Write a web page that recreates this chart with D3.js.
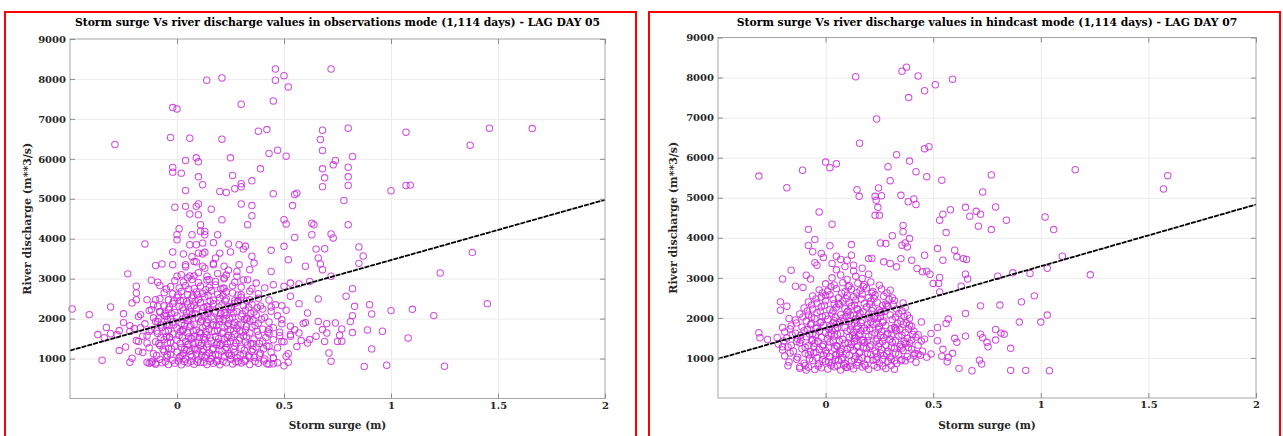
<!DOCTYPE html>
<html><head><meta charset="utf-8">
<script src="https://cdn.jsdelivr.net/npm/d3@7"></script>
<style>
body{margin:0;background:#fff;}
svg{display:block;}
text{font-family:"DejaVu Serif",serif;font-weight:bold;}
</style>
</head><body>
<svg id="c" width="1283" height="436"></svg>
<script>
const xTickValues = [0, 0.5, 1, 1.5, 2];
const xGridValues = [0, 0.5, 1, 1.5];
const yTickValues = [1000, 2000, 3000, 4000, 5000, 6000, 7000, 8000, 9000];
const yGridValues = [1000, 2000, 3000, 4000, 5000, 6000, 7000, 8000];
const xDomain = [-0.5, 2];
const yDomain = [0, 9000];
const titles = [
  "Storm surge Vs river discharge values in observations mode (1,114 days) - LAG DAY 05",
  "Storm surge Vs river discharge values in hindcast mode (1,114 days) - LAG DAY 07"
];
const xLabel = "Storm surge (m)";
const yLabel = "River discharge (m**3/s)";
// regression [intercept, slope]
const obsFit = [1955, 1510];
const hindFit = [1748, 1541];

const obsOutliers = [[0.00,7250],[0.139,7967],[0.21,8025],[0.46,8250],[0.46,7967],[0.50,8083],[0.52,7800],[0.72,8250],[0.45,7450],[0.30,7367],[-0.02,7283],[0.38,6692],[0.42,6733],[-0.03,6533],[0.06,6517],[0.21,6492],[-0.29,6358],[0.68,6717],[0.67,6483],[0.68,6208],[0.80,6767],[0.09,6025],[0.04,5958],[0.10,5925],[0.25,6025],[0.43,6133],[0.47,6217],[0.51,6067],[0.74,5958],[0.73,5850],[0.80,5792],[0.68,5750],[-0.02,5783],[-0.02,5667],[0.02,5642],[0.39,5750],[0.10,5550],[0.26,5583],[0.12,5350],[0.35,5450],[0.30,5375],[0.30,5300],[0.27,5250],[0.69,5525],[0.80,5550],[0.80,5333],[0.04,5208],[0.20,5183],[0.23,5158],[0.45,5125],[0.55,5108],[0.56,5142],[0.68,5300],[0.78,4958],
[1.07,6667],[1.46,6767],[1.66,6758],[1.37,6342],[0.82,6058],[1.07,5333],[1.09,5342],[1.00,5200],[0.80,4350],[0.85,3792],[0.87,3567],[0.85,3383],[1.38,3658],[1.23,3142],[0.82,2750],[0.83,2308],[0.90,2350],[0.91,2117],[0.82,2075],[0.81,1925],[1.00,2200],[1.10,2233],[1.20,2075],[1.45,2375],[0.89,1717],[0.96,1683],[0.82,1650],[1.08,1517],[0.77,1742],[0.77,1433],[0.76,1583],[0.91,1242],[0.875,800],[0.98,833],[1.25,808]];

const obsSparse = [[-0.01,4790],[0.04,4810],[0.09,4810],[0.10,4870],[0.16,4740],[0.06,4620],[0.10,4600],[0.30,4870],[0.35,4830],[0.54,4830],[0.35,4575],[0.33,4350],[0.50,4475],[0.51,4370],[0.21,4475],[0.63,4390],[0.64,4350],[0.11,4350],[0.11,4180],[0.13,4180],[0.01,4250],[0.00,4100],[0.07,4100],[0.13,4100],[0.19,4100],[0.63,4100],[0.72,4120],[0.73,4020],[0.55,4030],[-0.15,3870],[0.00,3975],[0.06,3850],[0.09,3850],[0.12,3890],[0.17,3900],[0.24,3870],[0.29,3850],[0.32,3810],[0.50,3810],[0.44,3710],[0.65,3740],[0.69,3750],[-0.02,3670],[0.03,3620],[0.10,3640],[0.13,3660],[0.20,3640],[0.25,3670],[0.31,3740],[0.35,3560],[0.66,3520],[0.52,3475],[-0.10,3330],[-0.07,3370],[-0.02,3350],[0.04,3350],[0.08,3430],[0.12,3310],[0.17,3350],[0.24,3210],[0.29,3350],[0.34,3225],[0.36,3390],[0.44,3180],[0.60,3310],[0.67,3370],[0.68,3225],[0.72,3060],[-0.23,3120],[-0.12,2960],[-0.09,2910],[-0.08,2830],[0.00,3060],[0.05,3020],[0.08,3070],[0.15,2975],[0.22,3020],[0.28,3060],[0.33,2975],[0.37,2890],[0.41,2770],[0.45,2850],[0.50,2810],[0.53,2890],[0.57,2870],[0.62,2930],[-0.19,2810],[-0.19,2640],[-0.19,2475],[-0.21,2390],[-0.14,2475],[-0.10,2475],[-0.05,2740],[-0.09,2310],[-0.49,2240],[-0.41,2100],[-0.31,2290],[-0.25,2120],[-0.17,2100],[0.57,2375],[0.61,2140],[0.66,2490],[0.49,2325],[0.53,2560],[0.79,2560],[0.44,2290],[0.49,1975],[0.53,1810],[0.59,1875],[0.66,1930],[0.70,1875],[0.74,1890],[0.68,1725],[0.65,1560],[0.57,1640],[0.48,1660],[0.43,1725],[0.70,1640],[0.62,1475],[0.61,1390],[0.49,1430],[0.53,1560],[0.69,1430],[0.75,1430],[0.71,1140],[0.72,935],[0.51,1060],[0.52,910],[0.50,820],[0.45,1020],[0.42,870],[0.45,870],[0.34,1040],[0.43,1310],[-0.37,1600],[-0.34,1520],[-0.33,1780],[-0.31,1620],[-0.27,1700],[-0.27,1200],[-0.35,960],[-0.22,910],[-0.22,1825],[-0.22,1680],[-0.18,1180],[-0.18,1430],[-0.17,1770],[-0.16,1560],[-0.14,1390],[-0.14,910],[-0.12,910],[-0.10,890],[-0.13,1680],[-0.10,1930],[-0.12,2225],[-0.08,2180],[-0.05,2060]];

const obsCore = [[-0.13,880],[-0.1,860],[-0.07,895],[-0.04,850],[-0.01,885],[0.02,845],[0.05,890],[0.08,860],[0.11,900],[0.14,850],[0.17,880],[0.2,845],[0.23,895],[0.26,865],[0.3,890],[0.34,850],[0.38,880],[0.43,860],[0.47,895],
[-0.21,1010],[-0.08,980],[-0.05,1040],[-0.02,960],[0.01,1020],[0.04,990],[0.07,1050],[0.1,970],[0.13,1030],[0.16,1000],[0.19,955],[0.22,1045],[0.25,985],[0.28,1020],[0.32,965],[0.36,1035],[0.41,990],[0.45,1010],
[-0.16,1150],[-0.11,1120],[-0.06,1180],[-0.03,1105],[0.0,1165],[0.03,1130],[0.06,1190],[0.09,1110],[0.12,1170],[0.15,1140],[0.18,1100],[0.21,1185],[0.24,1125],[0.27,1160],[0.31,1115],[0.35,1175],[0.39,1135],[0.44,1160],[0.52,1120],
[-0.24,1290],[-0.13,1270],[-0.08,1330],[-0.04,1255],[-0.01,1310],[0.02,1280],[0.05,1345],[0.08,1260],[0.11,1320],[0.14,1285],[0.17,1250],[0.2,1335],[0.23,1275],[0.27,1305],[0.3,1260],[0.33,1340],[0.37,1290],[0.42,1315],[0.47,1270],[0.56,1300],
[-0.19,1450],[-0.1,1420],[-0.06,1480],[-0.03,1405],[0.0,1465],[0.04,1430],[0.07,1495],[0.1,1410],[0.13,1470],[0.16,1440],[0.19,1400],[0.22,1485],[0.25,1425],[0.29,1460],[0.32,1415],[0.36,1490],[0.4,1435],[0.45,1470],[0.5,1420],[0.58,1450],
[-0.28,1600],[-0.14,1570],[-0.09,1630],[-0.05,1555],[-0.02,1615],[0.01,1580],[0.05,1645],[0.08,1560],[0.11,1620],[0.14,1590],[0.18,1550],[0.21,1635],[0.24,1575],[0.27,1610],[0.31,1565],[0.34,1640],[0.38,1585],[0.43,1620],[0.48,1570],[0.53,1600],
[-0.2,1750],[-0.12,1720],[-0.07,1780],[-0.04,1705],[0.0,1765],[0.03,1730],[0.06,1795],[0.09,1710],[0.12,1770],[0.15,1740],[0.19,1700],[0.22,1785],[0.25,1725],[0.28,1760],[0.32,1715],[0.35,1790],[0.4,1735],[0.45,1770],[0.55,1720],
[-0.25,1900],[-0.15,1870],[-0.09,1930],[-0.05,1855],[-0.02,1915],[0.02,1880],[0.05,1945],[0.08,1860],[0.11,1920],[0.14,1890],[0.17,1850],[0.2,1935],[0.24,1875],[0.27,1910],[0.3,1865],[0.34,1940],[0.38,1885],[0.43,1915],[0.49,1870],[0.6,1900],
[-0.18,2050],[-0.11,2020],[-0.06,2080],[-0.03,2005],[0.0,2065],[0.04,2030],[0.07,2095],[0.1,2010],[0.13,2070],[0.16,2040],[0.2,2000],[0.23,2085],[0.26,2025],[0.3,2060],[0.33,2015],[0.37,2090],[0.41,2035],[0.47,2070],
[-0.13,2200],[-0.08,2170],[-0.04,2230],[-0.01,2155],[0.03,2215],[0.06,2180],[0.09,2245],[0.12,2160],[0.15,2220],[0.18,2190],[0.22,2150],[0.25,2235],[0.28,2175],[0.32,2210],[0.36,2165],[0.4,2240],[0.44,2185],[0.51,2210],
[-0.11,2350],[-0.06,2320],[-0.02,2380],[0.01,2305],[0.05,2365],[0.08,2330],[0.11,2395],[0.14,2310],[0.17,2370],[0.21,2340],[0.24,2300],[0.27,2385],[0.31,2325],[0.35,2360],[0.39,2315],[0.46,2345],
[-0.08,2500],[-0.04,2470],[0.0,2530],[0.03,2455],[0.07,2515],[0.1,2480],[0.13,2545],[0.17,2460],[0.2,2520],[0.23,2490],[0.27,2450],[0.3,2535],[0.34,2475],[0.38,2510],[0.43,2465],
[-0.06,2650],[-0.02,2620],[0.02,2680],[0.05,2605],[0.09,2665],[0.12,2630],[0.16,2695],[0.19,2610],[0.23,2670],[0.26,2640],[0.3,2600],[0.34,2685],[0.38,2625],
[-0.03,2800],[0.01,2770],[0.04,2830],[0.08,2755],[0.11,2815],[0.15,2780],[0.18,2845],[0.22,2760],[0.26,2820],[0.3,2790],[0.35,2750],
[-0.01,2950],[0.03,2920],[0.07,2980],[0.1,2905],[0.14,2965],[0.18,2930],[0.22,2995],[0.27,2910],[0.31,2970],
[0.02,3100],[0.06,3070],[0.1,3150],[0.14,3060],[0.19,3130],[0.23,3090],[0.28,3180],
[0.04,3300],[0.09,3420],[0.13,3260],[0.17,3380],[0.22,3310],
[0.07,3550],[0.12,3620],[0.18,3520],
[0.015,1060],[0.045,1215],[0.075,1370],[0.105,1525],[0.135,1680],[0.165,1835],[0.195,1990],[0.225,2145],[0.255,2300],[0.285,2455],
[0.025,1700],[0.055,1540],[0.085,1230],[0.115,1075],[0.145,2300],[0.175,2140],[0.205,1370],[0.235,1530],[0.265,1840],[0.295,1690],
[-0.035,1530],[-0.015,1840],[0.325,1990],[0.355,1380],[0.015,2450],[0.095,2600],[0.245,1080],[0.215,2760],[0.125,910],[0.285,925]];

const obsCoreExtra = [[-0.115,935],[-0.055,920],[0.005,940],[0.035,925],[0.065,935],[0.095,915],[0.155,930],[0.185,920],[0.215,935],[0.275,915],[0.315,930],[0.365,925],[0.405,940],
[-0.095,1075],[-0.045,1090],[0.025,1080],[0.065,1095],[0.135,1085],[0.165,1070],[0.195,1090],[0.255,1075],[0.295,1085],[0.335,1070],[0.385,1090],
[-0.065,1225],[-0.025,1240],[0.035,1230],[0.095,1215],[0.125,1235],[0.165,1220],[0.225,1225],[0.265,1240],[0.315,1215],[0.355,1230],[0.405,1245],
[-0.085,1375],[-0.045,1390],[0.015,1380],[0.055,1365],[0.115,1385],[0.145,1370],[0.185,1345],[0.235,1375],[0.275,1390],[0.345,1370],[0.385,1380],
[-0.075,1530],[-0.035,1540],[0.025,1525],[0.065,1510],[0.125,1535],[0.155,1520],[0.195,1505],[0.255,1530],[0.295,1515],[0.325,1540],[0.415,1525],
[-0.095,1690],[-0.055,1680],[0.015,1675],[0.075,1690],[0.105,1660],[0.175,1680],[0.215,1665],[0.265,1690],[0.305,1670],[0.375,1680],[0.425,1665],
[-0.075,1840],[-0.035,1830],[0.035,1825],[0.065,1840],[0.135,1815],[0.185,1830],[0.235,1820],[0.285,1840],[0.325,1810],[0.365,1830],
[-0.085,1990],[-0.045,1980],[0.025,1985],[0.055,1995],[0.115,1970],[0.145,1985],[0.215,1975],[0.245,1995],[0.315,1980],[0.355,1970],[0.395,1985],
[-0.055,2135],[-0.025,2125],[0.045,2140],[0.085,2120],[0.145,2135],[0.205,2125],[0.265,2140],[0.305,2120],[0.345,2130],
[-0.035,2290],[0.025,2275],[0.065,2290],[0.125,2280],[0.195,2290],[0.255,2275],[0.335,2285],[0.375,2270],
[-0.015,2440],[0.045,2425],[0.085,2440],[0.155,2430],[0.225,2440],[0.285,2420],[0.325,2445],
[0.005,2590],[0.075,2575],[0.145,2585],[0.215,2570],[0.285,2590],
[0.055,2740],[0.135,2725],[0.205,2745]];

const hindOutliers = [[0.14,8020],[0.355,8160],[0.376,8260],[0.43,8040],[0.46,7670],[0.51,7820],[0.59,7960],[0.386,7500],[0.237,6965],[0.158,6360],[0.46,6225],[0.48,6275],[0.33,6075],[0.39,5915],[0.0,5890],[0.02,5750],[0.05,5850],[-0.107,5685],[-0.31,5540],[-0.18,5250],[0.29,5775],[0.42,5650],[0.47,5525],[0.30,5425],[0.54,5435],[0.77,5570],[0.73,5145],[0.146,5200],[0.156,5035],[0.246,5245],[0.23,5035],[0.26,5050],[0.235,4935],[0.243,4760],[0.35,5060],[0.384,4900],[0.41,4970],[0.42,4830],[0.58,4700],[0.65,4760],[0.70,4660],[0.79,4770],[-0.03,4645],
[1.16,5700],[1.59,5550],[1.57,5220],[0.84,4440],[1.02,4520],[1.06,4205],[0.77,4205],[1.10,3540],[1.03,3240],[0.87,3125],[0.95,3110],[0.80,3040],[1.23,3075],[0.97,2550],[0.91,2400],[0.81,2320],[1.03,2070],[1.00,1895],[0.90,1895],[0.79,1710],[0.815,1620],[0.83,1590],[0.86,1240],[0.86,690],[0.93,690],[1.04,680]];

const hindSparse = [[0.23,4560],[0.25,4560],[0.03,4340],[-0.08,4210],[0.545,4590],[0.53,4440],[0.67,4540],[0.72,4590],[0.71,4290],[0.56,4130],[0.36,4310],[0.36,4150],[0.31,4050],[0.255,3870],[0.28,3855],[0.355,3815],[0.37,3870],[0.39,3980],[0.38,3770],[-0.05,3960],[-0.08,3810],[0.02,3800],[0.12,3830],[-0.06,3650],[-0.02,3610],[-0.01,3510],[-0.05,3380],[-0.04,3315],[0.05,3540],[0.07,3460],[0.10,3440],[0.12,3565],[0.03,3360],[0.13,3315],[0.20,3480],[0.215,3490],[0.27,3400],[0.30,3360],[0.33,3275],[0.35,3480],[0.40,3440],[0.46,3565],[0.52,3730],[0.545,3440],[0.60,3690],[0.61,3525],[0.64,3480],[0.655,3460],[0.425,3235],[0.45,3150],[0.47,3165],[0.485,3090],[0.53,3010],[0.50,2860],[0.525,2860],[0.53,2650],[0.65,3090],[0.66,2970],[0.63,2790],[0.72,2300],[0.65,2110],[-0.16,3190],[-0.2,2970],[-0.09,3065],[-0.07,2970],[-0.14,2790],[-0.105,2760],[-0.21,2400],[-0.18,2290],[-0.21,2190],[-0.17,1985],[-0.2,1760],[-0.31,1630],[-0.305,1505],[-0.27,1460],[-0.225,1510],[-0.2,1280],[-0.175,805],[-0.12,780],[-0.09,700],[0.545,1215],[0.59,1115],[0.49,1100],[0.57,1015],[0.54,1045],[0.565,905],[0.62,740],[0.68,680],[0.715,945],[0.725,850],[0.35,930],[0.32,930],[0.43,1100],[0.41,1070],[0.49,1610],[0.52,1760],[0.56,1860],[0.57,1970],[0.60,1490],[0.61,1390],[0.65,1545],[0.72,1595],[0.73,1505],[0.75,1390],[0.755,1280],[0.79,1446],[0.52,1430],[0.445,1900],[0.43,1580],[0.40,1446],[0.37,1360],[0.39,1820]];

const hindCore = [[-0.12,740],[-0.08,770],[-0.05,710],[-0.02,755],[0.01,725],[0.04,780],[0.07,700],[0.1,760],[0.13,730],[0.17,775],[0.2,715],[0.24,765],[0.28,735],[0.32,720],
[-0.17,900],[-0.1,870],[-0.06,935],[-0.03,855],[0.0,915],[0.03,880],[0.06,945],[0.09,860],[0.12,925],[0.15,890],[0.18,850],[0.22,940],[0.25,875],[0.29,910],[0.33,865],[0.37,930],[0.42,895],
[-0.19,1050],[-0.13,1020],[-0.08,1080],[-0.04,1005],[-0.01,1065],[0.02,1030],[0.05,1095],[0.08,1010],[0.11,1070],[0.14,1040],[0.17,1000],[0.21,1085],[0.24,1025],[0.27,1060],[0.3,1015],[0.34,1090],[0.38,1035],[0.44,1065],[0.47,1020],
[-0.2,1200],[-0.15,1170],[-0.11,1230],[-0.07,1155],[-0.03,1215],[0.0,1180],[0.04,1245],[0.07,1160],[0.1,1220],[0.13,1190],[0.16,1150],[0.19,1235],[0.23,1175],[0.26,1210],[0.29,1165],[0.32,1240],[0.36,1185],[0.4,1215],[0.45,1170],
[-0.22,1350],[-0.16,1320],[-0.12,1380],[-0.08,1305],[-0.05,1365],[-0.01,1330],[0.02,1395],[0.05,1310],[0.09,1370],[0.12,1340],[0.15,1300],[0.18,1385],[0.21,1325],[0.25,1360],[0.28,1315],[0.31,1390],[0.35,1335],[0.39,1370],[0.43,1320],
[-0.18,1500],[-0.13,1470],[-0.09,1530],[-0.06,1455],[-0.02,1515],[0.01,1480],[0.04,1545],[0.08,1460],[0.11,1520],[0.14,1490],[0.17,1450],[0.2,1535],[0.24,1475],[0.27,1510],[0.3,1465],[0.34,1540],[0.38,1485],[0.42,1520],[0.46,1470],
[-0.19,1650],[-0.14,1620],[-0.1,1680],[-0.06,1605],[-0.03,1665],[0.0,1630],[0.03,1695],[0.07,1610],[0.1,1670],[0.13,1640],[0.16,1600],[0.19,1685],[0.23,1625],[0.26,1660],[0.29,1615],[0.33,1690],[0.37,1635],[0.41,1670],
[-0.16,1800],[-0.11,1770],[-0.07,1830],[-0.04,1755],[-0.01,1815],[0.02,1780],[0.05,1845],[0.09,1760],[0.12,1820],[0.15,1790],[0.18,1750],[0.22,1835],[0.25,1775],[0.28,1810],[0.32,1765],[0.36,1840],[0.4,1785],
[-0.14,1950],[-0.09,1920],[-0.05,1980],[-0.02,1905],[0.01,1965],[0.04,1930],[0.08,1995],[0.11,1910],[0.14,1970],[0.17,1940],[0.21,1900],[0.24,1985],[0.27,1925],[0.31,1960],[0.35,1915],[0.39,1990],
[-0.12,2100],[-0.08,2070],[-0.04,2130],[0.0,2055],[0.03,2115],[0.07,2080],[0.1,2145],[0.13,2060],[0.16,2120],[0.2,2090],[0.23,2050],[0.26,2135],[0.3,2075],[0.34,2110],[0.38,2065],
[-0.1,2250],[-0.06,2220],[-0.02,2280],[0.02,2205],[0.05,2265],[0.09,2230],[0.12,2295],[0.15,2210],[0.19,2270],[0.22,2240],[0.25,2200],[0.29,2285],[0.33,2225],[0.37,2260],
[-0.08,2400],[-0.04,2370],[0.0,2430],[0.04,2355],[0.08,2415],[0.11,2380],[0.14,2445],[0.18,2360],[0.21,2420],[0.24,2390],[0.28,2350],[0.32,2435],[0.36,2375],
[-0.06,2550],[-0.02,2520],[0.02,2580],[0.06,2505],[0.1,2565],[0.13,2530],[0.17,2595],[0.2,2510],[0.23,2570],[0.27,2540],[0.31,2500],
[-0.03,2700],[0.01,2670],[0.05,2730],[0.09,2655],[0.12,2715],[0.16,2680],[0.19,2745],[0.22,2660],[0.26,2720],[0.3,2690],
[0.0,2850],[0.04,2820],[0.08,2880],[0.11,2805],[0.15,2865],[0.18,2830],[0.21,2895],[0.25,2815],
[0.03,3000],[0.07,3070],[0.1,2960],[0.14,3040],[0.17,2985],[0.2,3090],
[0.05,3200],[0.09,3280],[0.13,3170],[0.17,3240],
[0.015,900],[0.045,1060],[0.075,1215],[0.105,1370],[0.135,1525],[0.165,1680],[0.195,1835],[0.225,1990],[0.255,2145],[0.285,2300],[-0.045,1140],[-0.015,1290],[0.025,1600],[0.055,1760],[0.085,1920],[0.115,2070],[0.145,2230],[0.175,1440],[0.205,1280],[0.235,1120],[0.265,960],[0.305,1570],[0.325,1730],[-0.075,1600],[-0.115,1450],[0.355,1250],[0.0,2560],[0.06,2360],[0.155,960],[0.095,770]];

const hindCoreExtra = [[-0.095,810],[-0.035,800],[0.025,815],[0.055,805],[0.085,820],[0.115,800],[0.145,815],[0.185,805],[0.225,820],[0.265,800],[0.305,815],
[-0.135,965],[-0.075,975],[-0.015,960],[0.045,970],[0.075,955],[0.135,975],[0.195,965],[0.235,955],[0.305,970],[0.355,960],[0.395,975],
[-0.165,1125],[-0.095,1110],[-0.055,1125],[0.005,1115],[0.065,1120],[0.095,1105],[0.155,1125],[0.195,1110],[0.255,1120],[0.285,1105],[0.325,1125],[0.415,1115],
[-0.175,1275],[-0.095,1265],[-0.055,1280],[0.015,1270],[0.055,1285],[0.115,1265],[0.145,1275],[0.175,1260],[0.245,1280],[0.305,1270],[0.345,1285],[0.385,1260],
[-0.195,1425],[-0.135,1410],[-0.065,1425],[-0.035,1415],[0.035,1430],[0.065,1420],[0.135,1415],[0.195,1430],[0.235,1420],[0.265,1410],[0.325,1430],[0.365,1415],[0.445,1420],
[-0.155,1575],[-0.115,1565],[-0.045,1580],[0.015,1570],[0.055,1585],[0.125,1560],[0.155,1575],[0.215,1580],[0.255,1565],[0.285,1580],[0.355,1570],[0.405,1585],
[-0.165,1725],[-0.085,1715],[-0.045,1730],[0.015,1720],[0.045,1735],[0.115,1710],[0.145,1725],[0.205,1730],[0.245,1715],[0.305,1730],[0.345,1715],[0.385,1725],
[-0.135,1875],[-0.065,1865],[-0.025,1880],[0.035,1870],[0.065,1885],[0.135,1865],[0.165,1880],[0.235,1870],[0.265,1885],[0.335,1865],[0.375,1880],
[-0.105,2025],[-0.065,2015],[-0.015,2030],[0.045,2020],[0.095,2035],[0.155,2025],[0.205,2015],[0.255,2030],[0.325,2020],[0.365,2035],
[-0.085,2175],[-0.025,2165],[0.035,2180],[0.105,2170],[0.175,2160],[0.215,2180],[0.275,2165],[0.355,2175],
[-0.065,2325],[-0.005,2315],[0.065,2330],[0.135,2320],[0.205,2335],[0.265,2315],[0.315,2330],
[-0.045,2475],[0.035,2465],[0.095,2480],[0.165,2470],[0.225,2485],[0.295,2465],
[-0.015,2625],[0.075,2615],[0.145,2630],[0.215,2620],[0.285,2625],
[0.025,2775],[0.105,2770],[0.175,2785]];

const obsPoints = obsOutliers.concat(obsSparse, obsCore, obsCoreExtra);
const hindPoints = hindOutliers.concat(hindSparse, hindCore, hindCoreExtra);

const panels = [
  {frame:[5,12,631], plot:[70,39,605,398.5], ylabX:28, title:titles[0], points:obsPoints, fit:obsFit},
  {frame:[649,12,631], plot:[718,37.5,1256,398], ylabX:674, title:titles[1], points:hindPoints, fit:hindFit}
];

const svg = d3.select("#c");
svg.append("rect").attr("width",1283).attr("height",436).attr("fill","#fff");

const probe = svg.append("text").attr("font-size",10).text(titles[0]);
const titleSize = 10 * 526 / probe.node().getComputedTextLength();
probe.remove();

panels.forEach(p => {
  svg.append("rect").attr("x",p.frame[0]).attr("y",p.frame[1]).attr("width",p.frame[2]).attr("height",500)
    .attr("fill","none").attr("stroke","#ff0000").attr("stroke-width",2);
  const [l,t,r,b] = p.plot;
  const x = d3.scaleLinear().domain(xDomain).range([l,r]);
  const y = d3.scaleLinear().domain(yDomain).range([b,t]);
  const g = svg.append("g");

  g.append("g").attr("transform",`translate(0,${b})`)
    .call(d3.axisBottom(x).tickValues(xGridValues).tickSize(-(b-t)).tickFormat(""))
    .call(s => { s.select(".domain").remove(); s.selectAll("line").attr("stroke","#ebebeb").attr("stroke-width",1); });
  g.append("g").attr("transform",`translate(${l},0)`)
    .call(d3.axisLeft(y).tickValues(yGridValues).tickSize(-(r-l)).tickFormat(""))
    .call(s => { s.select(".domain").remove(); s.selectAll("line").attr("stroke","#ebebeb").attr("stroke-width",1); });

  g.append("g").selectAll("circle").data(p.points).join("circle")
    .attr("cx", d => x(d[0])).attr("cy", d => y(d[1])).attr("r",3.2)
    .attr("fill","none").attr("stroke","#c92fd9").attr("stroke-width",1.05).attr("stroke-opacity",0.85);

  g.append("path").datum(xDomain)
    .attr("d", d3.line().x(d => x(d)).y(d => y(p.fit[0] + p.fit[1]*d)))
    .attr("fill","none").attr("stroke","#000").attr("stroke-width",1.8).attr("stroke-dasharray","5,1");

  g.append("rect").attr("x",l).attr("y",t).attr("width",r-l).attr("height",b-t)
    .attr("fill","none").attr("stroke","#a6a6a6").attr("stroke-width",1);

  const styleAxis = s => {
    s.select(".domain").remove();
    s.selectAll("line").attr("stroke","#8c8c8c");
    s.selectAll("text").attr("fill","#262626").attr("font-size",10)
      .attr("font-family","DejaVu Serif").attr("font-weight","bold");
  };
  g.append("g").attr("transform",`translate(0,${b})`)
    .call(d3.axisBottom(x).tickValues(xTickValues).tickSizeInner(-5).tickSizeOuter(0).tickPadding(3).tickFormat(d3.format("")))
    .call(styleAxis);
  g.append("g").attr("transform",`translate(0,${t})`)
    .call(d3.axisTop(x).tickValues(xTickValues).tickSizeInner(-5).tickSizeOuter(0).tickFormat(""))
    .call(styleAxis);
  g.append("g").attr("transform",`translate(${l},0)`)
    .call(d3.axisLeft(y).tickValues(yTickValues).tickSizeInner(-5).tickSizeOuter(0).tickPadding(4).tickFormat(d3.format("d")))
    .call(styleAxis);
  g.append("g").attr("transform",`translate(${r},0)`)
    .call(d3.axisRight(y).tickValues(yTickValues).tickSizeInner(-5).tickSizeOuter(0).tickFormat(""))
    .call(styleAxis);

  svg.append("text").attr("x",(l+r)/2).attr("y",26).attr("text-anchor","middle")
    .attr("font-size",titleSize).attr("fill","#000").text(p.title);
  svg.append("text").attr("x",(l+r)/2).attr("y",429).attr("text-anchor","middle")
    .attr("font-size",10.5).attr("fill","#262626").text(xLabel);
  svg.append("text").attr("transform",`translate(${p.ylabX},${(t+b)/2}) rotate(-90)`)
    .attr("text-anchor","middle").attr("dominant-baseline","middle")
    .attr("font-size",11).attr("fill","#262626").text(yLabel);
});
</script>
</body></html>
